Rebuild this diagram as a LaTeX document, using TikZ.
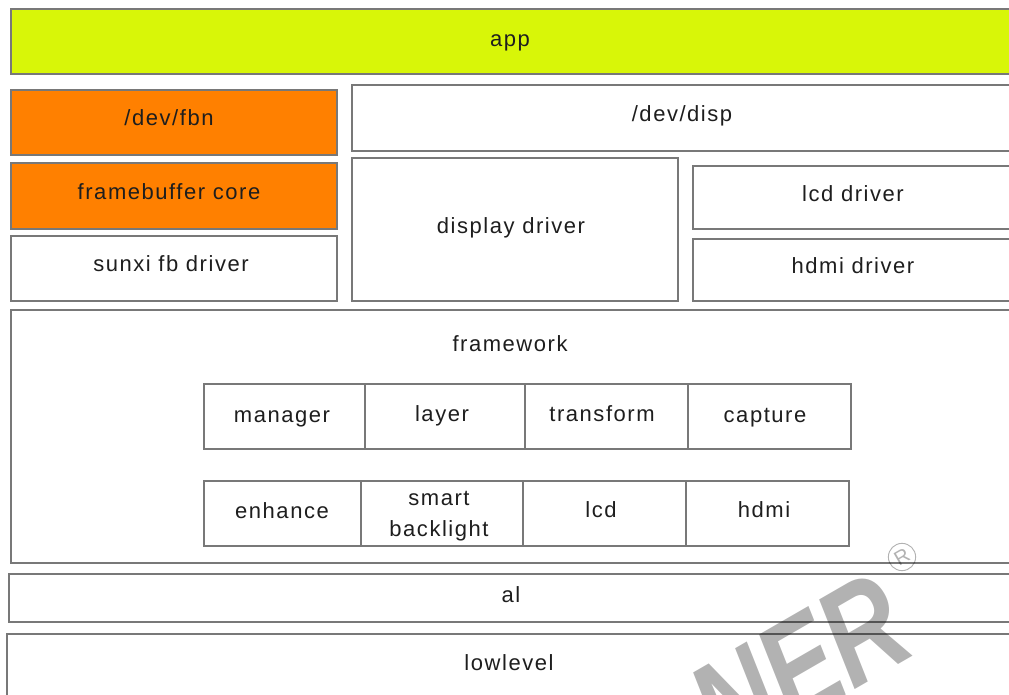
\documentclass[tikz,border=0pt]{standalone}
\usepackage{fontspec}
\setmainfont{Liberation Sans}
\definecolor{lineg}{RGB}{120,120,120}
\definecolor{limeg}{RGB}{216,246,8}
\definecolor{orng}{RGB}{255,128,0}
\definecolor{txt}{RGB}{30,30,30}
\newcommand{\bx}[8]{%
  \node[box,#6,minimum width={(#4-#2)*0.75pt},minimum height={(#5-#3)*0.75pt}] (#1) at ({(#2+#4)/2},{(#3+#5)/2}) {};
  \node[lbl] (#1-t) at (#7) {#8};}
\tikzset{
  box/.style={draw=lineg,line width=1pt,inner sep=0pt,outer sep=0pt,fill=white},
  lime/.style={fill=limeg},
  orange/.style={fill=orng},
  lbl/.style={text=txt,font=\fontsize{16.5pt}{17.5pt}\selectfont\addfontfeatures{LetterSpace=7},align=center,inner sep=0pt,text height=14.5pt,text depth=3pt},
  wm/.style={text=black,opacity=0.3,inner sep=0pt}
}
\begin{document}
\begin{tikzpicture}[x=0.75pt,y=-0.75pt]
\useasboundingbox (0,0) rectangle (1009,695);
\clip (0,0) rectangle (1009,695);
\fill[white] (0,0) rectangle (1009,695);
\bx{app}{11}{9}{1012}{74}{lime}{510,39}{app}
\bx{fbn}{11}{90}{337}{155}{orange}{169,118}{/dev/fbn}
\bx{disp}{352}{85}{1012}{151}{}{682,114}{/dev/disp}
\bx{fbcore}{11}{163}{337}{229}{orange}{169,192}{framebuffer core}
\bx{sunxi}{11}{236}{337}{301}{}{171,264}{sunxi fb driver}
\bx{dd}{352}{158}{678}{301}{}{511,226}{display driver}
\bx{lcdd}{693}{166}{1013}{229}{}{853,194}{lcd driver}
\bx{hdmid}{693}{239}{1013}{301}{}{853,266}{hdmi driver}
\bx{fw}{11}{310}{1012}{563}{}{510,344}{framework}
\bx{manager}{204}{384}{365}{449}{}{282,415}{manager}
\bx{layer}{365}{384}{525}{449}{}{442,414}{layer}
\bx{transform}{525}{384}{688}{449}{}{602,414}{transform}
\bx{capture}{688}{384}{851}{449}{}{765,415}{capture}
\bx{enhance}{204}{481}{361}{546}{}{282,511}{enhance}
\bx{smart}{361}{481}{523}{546}{}{439,529}{smart\\[6pt]backlight}
\bx{lcd}{523}{481}{686}{546}{}{601,510}{lcd}
\bx{hdmi}{686}{481}{849}{546}{}{764,510}{hdmi}
\bx{al}{9}{574}{1012}{622}{}{511,595}{al}
\bx{low}{7}{634}{1012}{705}{}{509,663}{lowlevel}
\node[wm,rotate=30,anchor=base east,xscale=0.76,font=\fontsize{104pt}{104pt}\selectfont\bfseries\itshape] (mark) at (920,652) {NER};
\node[wm,draw=black,circle,line width=0.7pt,minimum size=20pt,font=\fontsize{15pt}{15pt}\selectfont] (reg) at (902,557) {\rotatebox{30}{R}};
\end{tikzpicture}
\end{document}
